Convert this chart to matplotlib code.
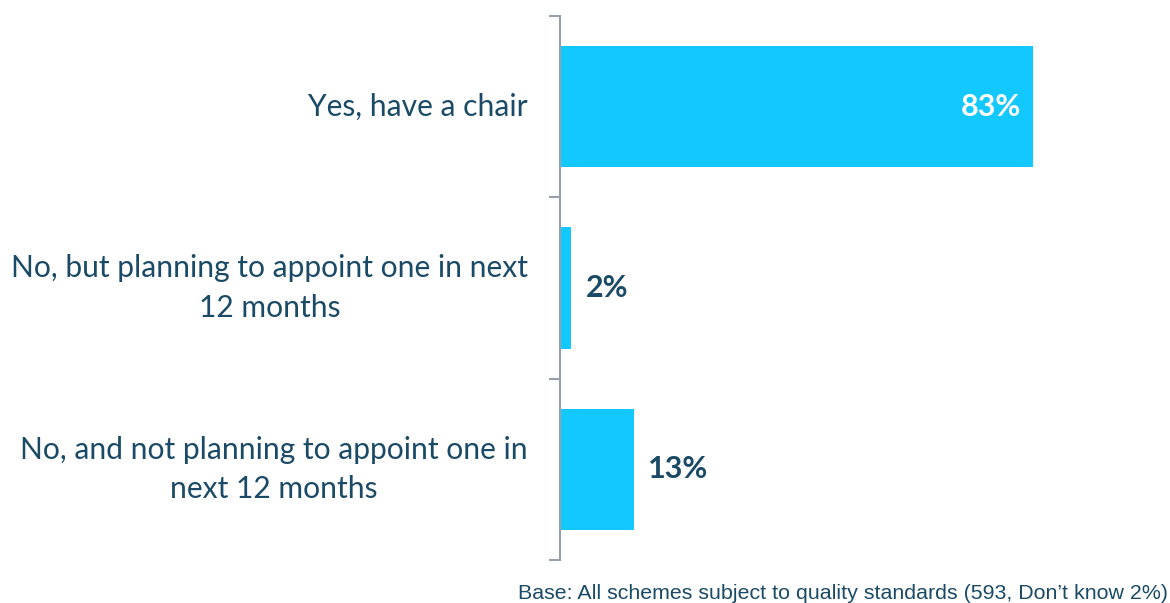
import matplotlib.pyplot as plt

# survey answers, top to bottom
categories = [
    "Yes, have a chair",
    "No, but planning to appoint one in next\n12 months",
    "No, and not planning to appoint one in\nnext 12 months",
]
values = [83, 2, 13]
note = "Base: All schemes subject to quality standards (593, Don\u2019t know 2%)"

bar_col = "#12C8FF"
text_col = "#1A4A66"
axis_col = "#97A0AA"

fig = plt.figure(figsize=(11.7, 6.03), dpi=100)
ax = fig.add_axes([0.4786, 0.0713, 0.487, 0.9022])

pos = list(range(len(values)))
ax.barh(pos, values, height=0.67, color=bar_col)
ax.set_ylim(len(values) - 0.5, -0.5)
ax.set_xlim(0, 100)

for s in ["top", "right", "bottom"]:
    ax.spines[s].set_visible(False)
ax.spines["left"].set_color(axis_col)
ax.spines["left"].set_linewidth(1.5)

ax.set_xticks([])
ax.set_yticks([-0.5, 0.5, 1.5, 2.5])
ax.set_yticklabels([])
ax.tick_params(axis="y", length=8, width=1.5, color=axis_col)

for p, lab in zip(pos, categories):
    ax.text(-5.6, p, lab, ha="right", va="center", multialignment="center",
            fontsize=21.6, linespacing=1.5, color=text_col, family="Lato")

for p, v in zip(pos, values):
    if v > 30:
        ax.text(v - 2, p, f"{v}%", ha="right", va="center", fontsize=22,
                fontweight="bold", color="white", family="Lato")
    else:
        ax.text(v + 2.5, p, f"{v}%", ha="left", va="center", fontsize=22,
                fontweight="bold", color=text_col, family="Lato")

fig.text(0.998, 0.016, note, ha="right", va="center", fontsize=15.4,
         color=text_col, family="Liberation Sans")

fig.savefig("out.png", dpi=100)
